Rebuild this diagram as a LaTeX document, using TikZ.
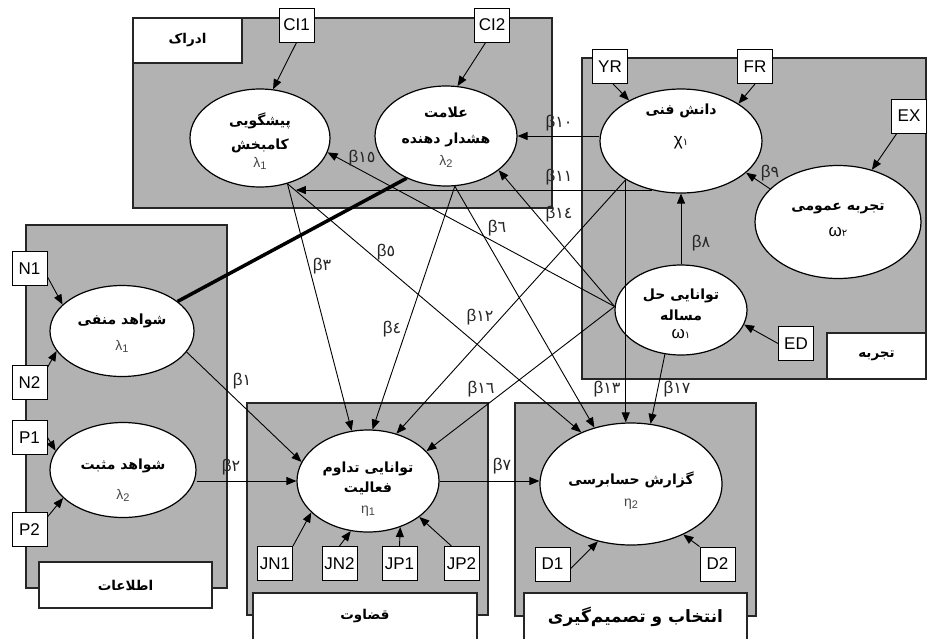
\documentclass[tikz,border=0pt]{standalone}
\usepackage{fontspec}
\setmainfont{Liberation Sans}
\newfontfamily\fafont[Script=Arabic]{DejaVu Sans}
\newfontfamily\digfont{DejaVu Sans}
\TeXXeTstate=1
\usetikzlibrary{shapes.geometric,arrows.meta,calc}
\definecolor{boxgray}{RGB}{178,178,178}
\definecolor{symgray}{RGB}{70,70,70}
\newcommand{\fatx}[1]{{\fafont\bfseries\beginR #1\endR}}
\newcommand{\betal}[1]{β{\digfont\fontsize{16}{17}\selectfont #1}}
\newcommand{\gsym}[2]{{\color{symgray}\fontsize{14}{14}\selectfont #1\raisebox{-2pt}{\fontsize{11}{11}\selectfont #2}}}
\newcommand{\gfa}[2]{{\fontsize{17}{17}\selectfont #1}{\digfont\fontsize{10}{10}\selectfont #2}}
\tikzset{
  grp/.style={draw=black!85, line width=1.3pt, fill=boxgray},
  lbl/.style={draw=black!85, line width=1.3pt, fill=white, inner sep=0pt, font=\fontsize{13.5}{16}\selectfont},
  ind/.style={draw=black, line width=1pt, fill=white, minimum width=35pt, minimum height=34pt, inner sep=0pt, font=\fontsize{17}{18}\selectfont},
  lat/.style={ellipse, draw=black, line width=1.2pt, fill=white, inner sep=0pt},
  ltxt/.style={align=center, inner sep=0pt, font=\fontsize{14}{18}\selectfont},
  conn/.style={line width=0.9pt, -{Triangle[length=10pt,width=8pt]}},
  blab/.style={font=\fontsize{17}{18}\selectfont, text=black!85, inner sep=0pt},
}
\begin{document}
\begin{tikzpicture}[x=1pt,y=-1pt]
\useasboundingbox (0,0) rectangle (928,638);
% group boxes
\path[grp] (133,18) rectangle (552,208);
\path[grp] (582,58) rectangle (926,379);
\path[grp] (26,225) rectangle (227,588);
\path[grp] (247,403) rectangle (488,615);
\path[grp] (515,403) rectangle (756,616);
% group labels
\node[lbl, minimum width=109pt, minimum height=45pt] (percL) at (187.5,40.5) {\fatx{ادراک}};
\node[lbl, minimum width=99pt, minimum height=46pt] (expL) at (876.5,356) {\fatx{تجربه}};
\node[lbl, minimum width=173pt, minimum height=46pt] (infoL) at (125.5,585) {\fatx{اطلاعات}};
\node[lbl, minimum width=224pt, minimum height=47pt] (judgL) at (365,616.5) {\fatx{قضاوت}};
\node[lbl, minimum width=223pt, minimum height=47pt, font=\fontsize{17}{18}\selectfont] (decL) at (635.5,616.5) {\fatx{انتخاب و تصمیم‌گیری}};
% latent variables
\node[lat, minimum width=140pt, minimum height=98pt] (pred) at (260,138) {};
\node[lat, minimum width=142pt, minimum height=100pt] (warn) at (446,136) {};
\node[lat, minimum width=162pt, minimum height=104pt] (tech) at (681,141) {};
\node[lat, minimum width=166pt, minimum height=113pt] (genexp) at (838,222) {};
\node[lat, minimum width=132pt, minimum height=90pt] (prob) at (681,310) {};
\node[lat, minimum width=144pt, minimum height=91pt] (neg) at (122,331) {};
\node[lat, minimum width=146pt, minimum height=95pt] (pos) at (123,470) {};
\node[lat, minimum width=142pt, minimum height=102pt] (gc) at (368,481) {};
\node[lat, minimum width=182pt, minimum height=122pt] (rep) at (631,484) {};
% latent variable texts
\node[ltxt] (predT) at (260,141) {\fatx{پیشگویی}\\[6pt]\fatx{کامبخش}\\[0pt]\gsym{λ}{1}};
\node[ltxt] (warnT) at (446,137) {\fatx{علامت}\\[8pt]\fatx{هشدار دهنده}\\[4pt]\gsym{λ}{2}};
\node[ltxt] (techT) at (681,126) {\fatx{دانش فنی}\\[13pt]\gfa{χ}{١}};
\node[ltxt] (genexpT) at (838,220) {\fatx{تجربه عمومی}\\[8pt]\gfa{ω}{٢}};
\node[ltxt] (probT) at (681,314) {\fatx{توانایی حل}\\[3pt]\fatx{مساله}\\[0pt]\gfa{ω}{١}};
\node[ltxt] (negT) at (122,333) {\fatx{شواهد منفی}\\[8pt]\gsym{λ}{1}};
\node[ltxt] (posT) at (123,480) {\fatx{شواهد مثبت}\\[12pt]\gsym{λ}{2}};
\node[ltxt] (gcT) at (368,489) {\fatx{توانایی تداوم}\\[2pt]\fatx{فعالیت}\\[3pt]\gsym{η}{1}};
\node[ltxt] (repT) at (631,491) {\fatx{گزارش حسابرسی}\\[4pt]\gsym{η}{2}};
% indicators
\node[ind] (CI1) at (296.5,25) {CI1};
\node[ind] (CI2) at (492,25) {CI2};
\node[ind] (YR) at (610,66.5) {YR};
\node[ind] (FR) at (755,66.5) {FR};
\node[ind] (EX) at (909,116) {EX};
\node[ind] (ED) at (796,343.5) {ED};
\node[ind] (N1) at (29.5,268.5) {N1};
\node[ind] (N2) at (29.5,382.5) {N2};
\node[ind] (P1) at (29.5,437.5) {P1};
\node[ind] (P2) at (29.5,529.5) {P2};
\node[ind] (JN1) at (275,563.5) {JN1};
\node[ind] (JN2) at (339.5,563.5) {JN2};
\node[ind] (JP1) at (399.5,563.5) {JP1};
\node[ind] (JP2) at (461.5,563.5) {JP2};
\node[ind] (D1) at (552.5,564) {D1};
\node[ind] (D2) at (717.5,564) {D2};
% indicator arrows
\draw[conn] (CI1.south) -- (pred.75);
\draw[conn] (CI2.-110) -- (warn.77);
\draw[conn] (YR.-80) -- (tech.142);
\draw[conn] (FR.south) -- (tech.33);
\draw[conn] (EX.-125) -- (genexp.57);
\draw[conn] (ED.west) -- (prob.-13);
\draw[conn] (N1.-25) -- (neg.156);
\draw[conn] (N2.40) -- (neg.-163);
\draw[conn] (P1.east) -- (pos.164);
\draw[conn] (P2.35) -- (pos.-155);
\draw[conn] (JN1.north east) -- (gc.-151);
\draw[conn] (JN2.north) -- (gc.-109);
\draw[conn] (JP1.north) -- (gc.-55);
\draw[conn] (JP2.120) -- (gc.-35);
\draw[conn] (D1.-15) -- (rep.-120);
\draw[conn] (D2.north west) -- (rep.-44);
% structural paths
\draw[conn] (neg.-18) -- (gc.164);
\draw[conn] (pos.east |- gc.west) -- (gc.west);
\draw[conn] (pred.-59) -- (gc.108);
\draw[conn] (warn.-80) -- (gc.85);
\draw[conn] (pred.-59) -- (rep.134);
\draw[conn] (warn.-80) -- (rep.123);
\draw[conn] (gc.east) -- (gc.east -| rep.west);
\draw[conn] (prob.north) -- (tech.south);
\draw[conn] (genexp.154) -- (tech.-26);
\draw[conn] (tech.west |- warn.east) -- (warn.east);
\draw[conn] (tech.239) -- (tech.239 -| pred.-50);
\draw[conn] (tech.215) -- (gc.59);
\draw[conn] (tech.215) -- (tech.215 |- rep.north);
\draw[conn] (prob.177) -- (warn.-33);
\draw[conn] (prob.177) -- (pred.-12);
\draw[conn] (prob.177) -- (gc.27);
\draw[conn] (prob.-110) -- (rep.72);
\draw[line width=3.5pt] (warn.-133) -- (neg.28);
% path labels
\node[blab] (b1) at (242,381) {\betal{١}};
\node[blab] (b2) at (231,467) {\betal{٢}};
\node[blab] (b3) at (322,266) {\betal{٣}};
\node[blab] (b4) at (392,329) {\betal{٤}};
\node[blab] (b5) at (386,252) {\betal{٥}};
\node[blab] (b6) at (497,228) {\betal{٦}};
\node[blab] (b7) at (502,466) {\betal{٧}};
\node[blab] (b8) at (701,243) {\betal{٨}};
\node[blab] (b9) at (770,173) {\betal{٩}};
\node[blab] (b10) at (559,123) {\betal{١٠}};
\node[blab] (b11) at (559,177) {\betal{١١}};
\node[blab] (b12) at (480,317) {\betal{١٢}};
\node[blab] (b13) at (607,389) {\betal{١٣}};
\node[blab] (b14) at (559,214) {\betal{١٤}};
\node[blab] (b15) at (362,158) {\betal{١٥}};
\node[blab] (b16) at (481,389) {\betal{١٦}};
\node[blab] (b17) at (677,389) {\betal{١٧}};
\end{tikzpicture}
\end{document}
